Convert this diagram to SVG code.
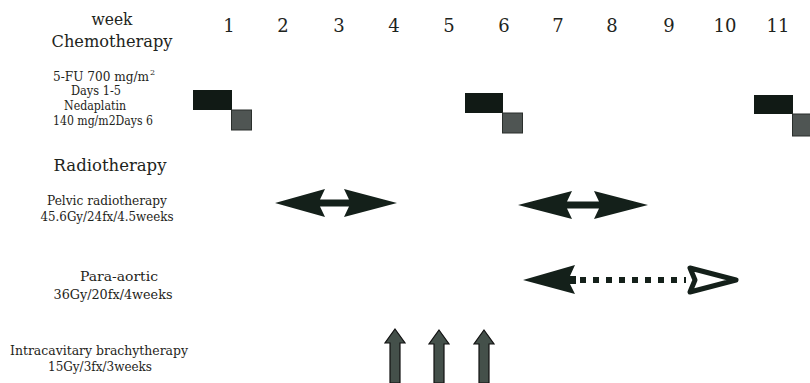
<svg xmlns="http://www.w3.org/2000/svg" width="810" height="383" viewBox="0 0 810 383">
<style>
text{font-family:"DejaVu Serif","Liberation Serif",serif;fill:#1e2420;text-anchor:middle}
.h{font-size:17px}
.n{font-size:18px}
.s{font-size:12px}
.blk{fill:#111a15}
.gry{fill:#4f5553;stroke:#2a2f2c;stroke-width:1}
.arr{fill:#14201a}
.up{fill:#44504a;stroke:#111;stroke-width:1.2}
</style>
<rect width="810" height="383" fill="#fff"/>
<g id="header">
<text class="h" x="112" y="25" textLength="41" lengthAdjust="spacingAndGlyphs">week</text>
<text class="h" x="112" y="47" textLength="121" lengthAdjust="spacingAndGlyphs">Chemotherapy</text>
<text class="n" x="229" y="32">1</text>
<text class="n" x="283" y="32">2</text>
<text class="n" x="339" y="32">3</text>
<text class="n" x="394" y="32">4</text>
<text class="n" x="449" y="32">5</text>
<text class="n" x="504" y="32">6</text>
<text class="n" x="558" y="32">7</text>
<text class="n" x="612" y="32">8</text>
<text class="n" x="669" y="32">9</text>
<text class="n" x="725" y="32">10</text>
<text class="n" x="778" y="32">11</text>
</g>
<g id="chemo-label">
<text class="s" x="53" y="81" text-anchor="start" style="text-anchor:start" textLength="96" lengthAdjust="spacingAndGlyphs">5-FU 700 mg/m</text>
<text x="150" y="75" style="text-anchor:start;font-size:8px">2</text>
<text class="s" x="96" y="95" textLength="50" lengthAdjust="spacingAndGlyphs">Days 1-5</text>
<text class="s" x="95" y="110" textLength="62" lengthAdjust="spacingAndGlyphs">Nedaplatin</text>
<text class="s" x="103" y="125" textLength="100" lengthAdjust="spacingAndGlyphs">140 mg/m2Days 6</text>
</g>
<g id="chemo1">
<rect class="blk" x="193" y="90" width="39" height="20"/>
<rect class="gry" x="231.5" y="110" width="20" height="20"/>
</g>
<g id="chemo2">
<rect class="blk" x="465" y="93" width="38" height="20"/>
<rect class="gry" x="502.5" y="113" width="20" height="20"/>
</g>
<g id="chemo3">
<rect class="blk" x="754" y="95" width="39" height="19"/>
<rect class="gry" x="792.5" y="114" width="20" height="22"/>
</g>
<g id="radio-label">
<text class="h" x="110" y="171" textLength="113" lengthAdjust="spacingAndGlyphs">Radiotherapy</text>
<text class="s" x="107" y="205" textLength="120" lengthAdjust="spacingAndGlyphs">Pelvic radiotherapy</text>
<text class="s" x="107" y="221" textLength="133" lengthAdjust="spacingAndGlyphs">45.6Gy/24fx/4.5weeks</text>
<text class="s" x="119" y="281" textLength="78" lengthAdjust="spacingAndGlyphs">Para-aortic</text>
<text class="s" x="113" y="299" textLength="119" lengthAdjust="spacingAndGlyphs">36Gy/20fx/4weeks</text>
<text class="s" x="99" y="355" textLength="178" lengthAdjust="spacingAndGlyphs">Intracavitary brachytherapy</text>
<text class="s" x="100" y="371" textLength="104" lengthAdjust="spacingAndGlyphs">15Gy/3fx/3weeks</text>
</g>
<g id="connectors">
<path class="arr" d="M275,203 L325,189 L320,199.5 L349,199.5 L344,189 L397,203 L344,217 L349,206.5 L320,206.5 L325,217 Z"/>
<path class="arr" d="M518,205 L572,191 L567,201.5 L599,201.5 L594,191 L648,205 L594,219 L599,208.5 L567,208.5 L572,219 Z"/>
<path class="arr" d="M523,280 L575,265 L570,276 L576,276 L576,284 L570,284 L575,294 Z"/>
<line x1="580" y1="280" x2="686" y2="280" stroke="#14201a" stroke-width="6" stroke-dasharray="6 7"/>
<path d="M690,268 L736,280 L690,292 L695,280 Z" fill="#fff" stroke="#14201a" stroke-width="5" stroke-linejoin="round"/>
<path class="up" d="M395,329 L405,343 L400,343 L400,383 L390,383 L390,343 L385,343 Z"/>
<path class="up" d="M439,330 L449,344 L444,344 L444,383 L434,383 L434,344 L429,344 Z"/>
<path class="up" d="M484,330 L494,344 L489,344 L489,383 L479,383 L479,344 L474,344 Z"/>
</g>
</svg>
